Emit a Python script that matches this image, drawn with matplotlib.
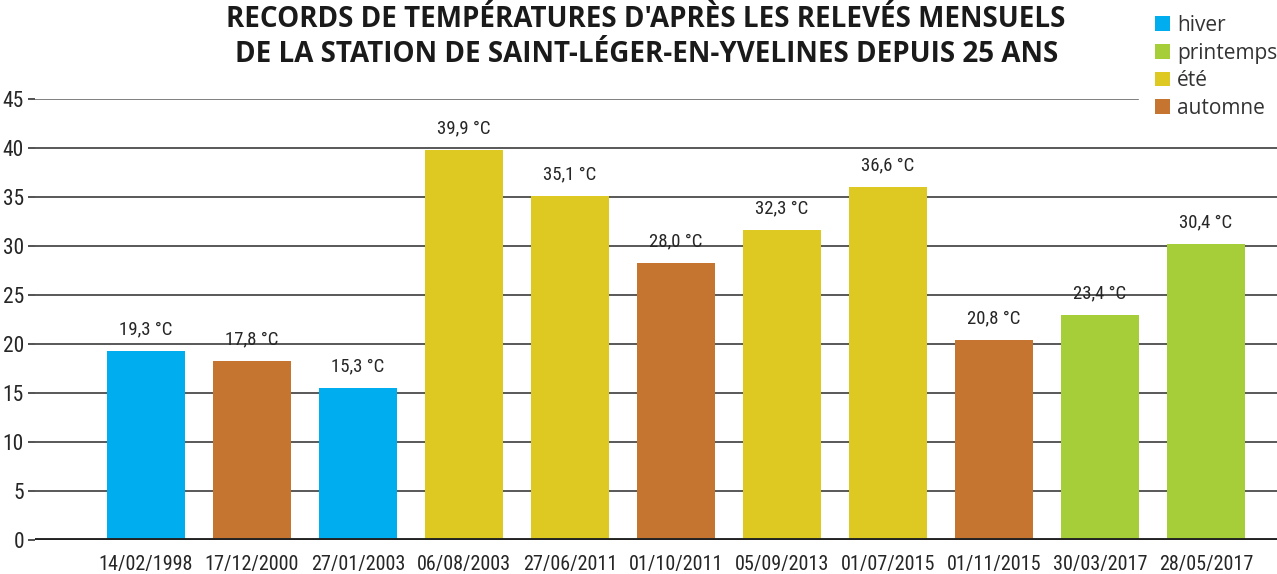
import matplotlib
matplotlib.use("Agg")
import matplotlib.pyplot as plt
from matplotlib.patches import Patch
from matplotlib import font_manager as fm
import os

dates = ["14/02/1998", "17/12/2000", "27/01/2003", "06/08/2003", "27/06/2011",
         "01/10/2011", "05/09/2013", "01/07/2015", "01/11/2015", "30/03/2017",
         "28/05/2017"]
bar_heights = [19.3, 18.3, 15.5, 39.8, 35.1, 28.3, 31.6, 36.0, 20.4, 23.0, 30.2]
value_labels = ["19,3 °C", "17,8 °C", "15,3 °C", "39,9 °C", "35,1 °C", "28,0 °C",
                "32,3 °C", "36,6 °C", "20,8 °C", "23,4 °C", "30,4 °C"]
seasons = ["hiver", "automne", "hiver", "été", "été", "automne", "été", "été",
           "automne", "printemps", "printemps"]
season_names = ["hiver", "printemps", "été", "automne"]
season_colors = {"hiver": "#00AEEF", "printemps": "#A6CE39",
                 "été": "#DDC921", "automne": "#C57530"}
yticks = [0, 5, 10, 15, 20, 25, 30, 35, 40, 45]
title = ("RECORDS DE TEMPÉRATURES D'APRÈS LES RELEVÉS MENSUELS\n"
         "DE LA STATION DE SAINT-LÉGER-EN-YVELINES DEPUIS 25 ANS")

# find a condensed font file if one is installed
prefs = ["RobotoCondensed-Regular.ttf", "NotoSans-ExtraCondensed.ttf",
         "NotoSans-Condensed.ttf", "LiberationSansNarrow-Regular.ttf",
         "DejaVuSansCondensed.ttf"]
files = {os.path.basename(f.fname): f.fname for f in fm.fontManager.ttflist}
narrow_file = None
for p in prefs:
    if p in files:
        narrow_file = files[p]
        break
if narrow_file is None:
    for name, path in files.items():
        if ("Condensed" in name or "Narrow" in name) and "Bold" not in name \
                and "Italic" not in name and "Light" not in name:
            narrow_file = path
            break


def nfont(size):
    if narrow_file:
        return fm.FontProperties(fname=narrow_file, size=size)
    return fm.FontProperties(family="DejaVu Sans", size=size * 0.85)


W, H = 1277, 574
fig = plt.figure(figsize=(W / 100, H / 100), dpi=100)
ax = fig.add_axes([35 / W, 1 - 540 / H, 1 - 35 / W, (540 - 99) / H])

x = list(range(len(dates)))
colors = [season_colors[s] for s in seasons]
ax.bar(x, bar_heights, width=0.736, color=colors, zorder=3)

for xi, h, lab in zip(x, bar_heights, value_labels):
    ax.annotate(lab, (xi, h), xytext=(0, 9), textcoords="offset points",
                ha="center", va="bottom", fontproperties=nfont(13.5),
                color="#262626")

ax.set_xlim(-1.047, 10.67)
ax.set_ylim(0, 45)
ax.set_yticks(yticks)
ax.set_yticklabels([str(v) for v in yticks], fontproperties=nfont(15.5),
                   color="#262626")
ax.set_xticks(x)
ax.set_xticklabels(dates, fontproperties=nfont(14.5), color="#262626")
ax.tick_params(axis="x", length=0, pad=11)
ax.tick_params(axis="y", length=5, width=1.2, color="#333333", pad=3)

for v in yticks[1:-1]:
    ax.axhline(v, color="#3c3c3c", lw=1.2, zorder=1)
ax.axhline(yticks[-1], xmax=(1138 - 35) / (W - 35), color="#6a6a6a", lw=1.2,
           zorder=1)
ax.axhline(0, color="#222222", lw=2.8, zorder=4)

for s in ["top", "right", "left", "bottom"]:
    ax.spines[s].set_visible(False)

fig.text(0.506, 1 - 37 / H, title, ha="center", va="center",
         fontsize=20, fontweight="bold", family=["Open Sans", "DejaVu Sans"],
         color="#1a1a1a", linespacing=1.3)

handles = [Patch(facecolor=season_colors[s], edgecolor="none") for s in season_names]
leg = fig.legend(handles, season_names, loc="upper left",
                 bbox_to_anchor=(1155 / W, 1 - 15 / H), frameon=False,
                 handlelength=0.7, handleheight=0.7, handletextpad=0.35,
                 labelspacing=0.32, borderpad=0, borderaxespad=0,
                 prop={"family": "Open Sans", "size": 15})
for t in leg.get_texts():
    t.set_color("#333333")

fig.savefig("out.png", dpi=100)
